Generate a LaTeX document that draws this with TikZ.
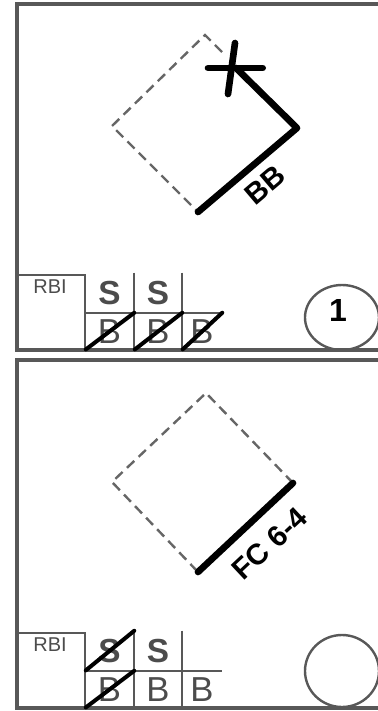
\documentclass[tikz,border=0pt]{standalone}
\usepackage{fontspec}
\setmainfont{Liberation Sans}
\usetikzlibrary{shapes.geometric}
\definecolor{framegray}{HTML}{585858}
\definecolor{dashgray}{HTML}{666666}
\definecolor{textgray}{HTML}{4C4C4C}

\begin{document}
\begin{tikzpicture}[x=0.75pt,y=-0.75pt,
  frame/.style={draw=framegray,line width=2.9pt},
  grid/.style={draw=framegray,line width=1.6pt},
  dashbase/.style={draw=dashgray,line width=1.8pt,dash pattern=on 7.5pt off 4.5pt},
  hitline/.style={line width=5pt,line cap=round,line join=round},
  slash/.style={line width=3pt,line cap=round,shorten <=1pt},
  scell/.style={inner sep=0pt,minimum height=30pt,text=textgray,font=\fontsize{25}{25}\selectfont\bfseries},
  bcell/.style={inner sep=0pt,minimum height=27.75pt,text=textgray,font=\fontsize{26}{26}\selectfont},
  rbilab/.style={inner sep=0pt,text=textgray,font=\fontsize{15}{15}\selectfont},
  elabel/.style={inner sep=0pt,font=\fontsize{22}{22}\selectfont\bfseries},
  numlab/.style={inner sep=0pt,font=\fontsize{24}{24}\selectfont\bfseries},
  outcircle/.style={ellipse,draw=framegray,line width=1.8pt,inner sep=0pt,minimum width=55.5pt}]
\useasboundingbox (0,0) rectangle (378,711);

\draw[frame] (390,4) -| (17,350) -- (390,350);
\coordinate (t1) at (205,35);
\coordinate (l1) at (112,126);
\coordinate (b1) at (198,212);
\coordinate (r1) at (297,128);
\coordinate (x1) at (236,68);
\coordinate (d1) at (222,52);
\draw[dashbase] (d1) -- (t1) -- (l1) -- (b1);
\draw[hitline] (b1) -- node[elabel,pos=0.53,sloped,below=7pt] {BB} (r1) -- (x1);
\draw[hitline] ([xshift=-21pt]x1) -- ([xshift=20pt]x1);
\draw[hitline] ([xshift=-0.75pt,yshift=18.75pt]x1) -- ([xshift=-6pt,yshift=-19.5pt]x1);
\node[rbilab] (rbi1) at (50,287) {RBI};
\node[scell,minimum width=36.75pt] (s11) at (109.5,293) {S};
\node[scell,minimum width=36pt] (s12) at (158,293) {S};
\node[bcell,minimum width=36.75pt] (b11) at (109.5,331.5) {B};
\node[bcell,minimum width=36pt] (b12) at (158,331.5) {B};
\node[bcell,minimum width=30pt] (b13) at (202,331.5) {B};
\draw[grid] (17,275) -| (b11.south west);
\draw[grid] (s11.north east) -- (b11.south east);
\draw[grid] (s12.north east) -- (b12.south east);
\draw[grid] (b11.north west) -- (b13.north east);
\draw[slash] (b11.south west) -- (b11.north east);
\draw[slash] (b12.south west) -- (b12.north east);
\draw[slash] (b13.south west) -- (b13.north east);
\node[outcircle,minimum height=48.75pt] (o1) at (342,317.5) {};
\node[numlab] (n1) at (338,310) {1};

\draw[frame] (390,360) -| (17,708) -- (390,708);
\coordinate (t2) at (206,393);
\coordinate (l2) at (112,482);
\coordinate (b2) at (198,572);
\coordinate (r2) at (293,483);
\draw[dashbase] (r2) -- (t2) -- (l2) -- (b2);
\draw[hitline] (b2) -- node[elabel,pos=0.55,sloped,below=11pt] {FC 6-4} (r2);
\node[rbilab] (rbi2) at (50,645) {RBI};
\node[scell,minimum width=36.75pt] (s21) at (109.5,651) {S};
\node[scell,minimum width=36pt] (s22) at (158,651) {S};
\node[bcell,minimum width=36.75pt] (b21) at (109.5,689.5) {B};
\node[bcell,minimum width=36pt] (b22) at (158,689.5) {B};
\node[bcell,minimum width=30pt] (b23) at (202,689.5) {B};
\draw[grid] (17,633) -| (b21.south west);
\draw[grid] (s21.north east) -- (b21.south east);
\draw[grid] (s22.north east) -- (b22.south east);
\draw[grid] (b21.north west) -- (b23.north east);
\draw[slash] (s21.south west) -- (s21.north east);
\draw[slash] (b21.south west) -- (b21.north east);
\node[outcircle,minimum height=54pt] (o2) at (342,671) {};
\end{tikzpicture}
\end{document}
